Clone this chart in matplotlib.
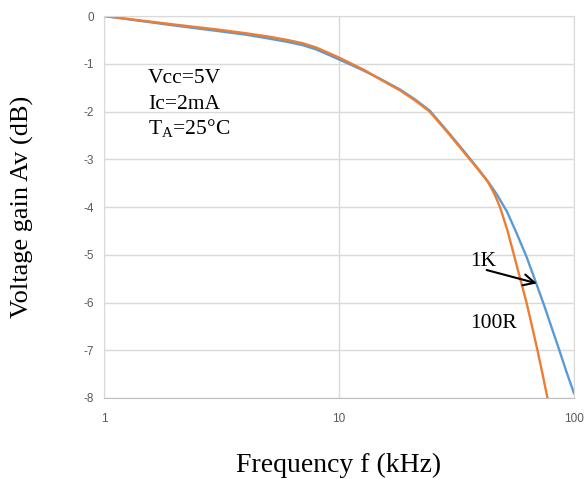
import matplotlib
matplotlib.use("Agg")
import matplotlib.pyplot as plt

# gain vs frequency (kHz, dB), 1K load
f_1k = [1, 2, 3, 4, 5, 6, 7, 8, 9, 10, 11.1, 12.8, 14.9, 18.2, 21.1, 24.3, 29.7, 36,
        39.5, 43.1, 47, 51.9, 57, 62.9, 68.5, 74.5, 80, 86.9, 93, 100]
av_1k = [0, -0.2, -0.31, -0.39, -0.47, -0.54, -0.61, -0.7, -0.81, -0.91, -1.01, -1.15, -1.31, -1.54, -1.75,
         -1.98, -2.48, -2.98, -3.23, -3.47, -3.74, -4.1, -4.55, -5.05, -5.55, -6.05, -6.5, -7.02, -7.46, -7.9]

# gain vs frequency (kHz, dB), 100R load
f_100r = [1, 2, 3, 4, 5, 6, 7, 8, 9, 10, 11.1, 12.8, 14.9, 18.2, 21.1, 24.3, 29.7, 36,
          39.5, 43.1, 46, 48.4, 52, 55.5, 59, 62.8, 66.3, 69.9, 73.5, 77.1]
av_100r = [0, -0.18, -0.28, -0.36, -0.43, -0.5, -0.57, -0.66, -0.77, -0.87, -0.98, -1.13, -1.32, -1.56, -1.77,
           -2.0, -2.5, -3.0, -3.24, -3.48, -3.74, -4.0, -4.48, -5.0, -5.5, -6.0, -6.5, -7.0, -7.5, -8.0]

yticks = [0, -1, -2, -3, -4, -5, -6, -7, -8]
xticks = [1, 10, 100]

serif = 'Liberation Serif'
sans = 'Liberation Sans'

fig = plt.figure(figsize=(5.85, 4.79), dpi=100)
ax = fig.add_axes([104/585, 1-398/479, (574-104)/585, (398-16)/479])

ax.plot(f_1k, av_1k, color='#5B9BD5', lw=1.7)
ax.plot(f_100r, av_100r, color='#ED7D31', lw=1.7)

ax.set_xscale('log')
ax.set_xlim(1, 100)
ax.set_ylim(-8, 0)
ax.set_xticks(xticks)
ax.set_xticklabels([str(t) for t in xticks])
ax.minorticks_off()
ax.set_yticks(yticks)
ax.set_yticklabels([str(t) for t in yticks])
ax.tick_params(length=0, labelsize=8.5, labelcolor='#595959')
ax.tick_params(axis='x', pad=11)
ax.tick_params(axis='y', pad=7)
for lab in ax.get_xticklabels() + ax.get_yticklabels():
    lab.set_family(sans)

ax.grid(True, color='#d9d9d9', lw=1)
ax.set_axisbelow(True)
for s in ['left', 'right', 'top']:
    ax.spines[s].set_color('#d9d9d9')
ax.spines['bottom'].set_color('#bfbfbf')

# test conditions
ax.text(0.0936, 0.836, 'Vcc=5V', transform=ax.transAxes, family=serif, fontsize=15.5, va='center')
ax.text(0.0936, 0.768, 'Ic=2mA', transform=ax.transAxes, family=serif, fontsize=15.5, va='center')
ax.text(0.0936, 0.706, r'T$_\mathregular{A}$=25°C', transform=ax.transAxes, family=serif, fontsize=15.5, va='center')

# curve labels and arrow
ax.text(36, -5.15, '1K', family=serif, fontsize=15.5, va='center')
ax.text(36, -6.45, '100R', family=serif, fontsize=15.5, va='center')
ax.annotate('', xy=(69.5, -5.6), xytext=(42.5, -5.32),
            arrowprops=dict(arrowstyle='->', color='black', lw=1.5, mutation_scale=20, shrinkA=0, shrinkB=0))

ax.set_xlabel('Frequency f (kHz)', family=serif, fontsize=20, labelpad=20)
ax.set_ylabel('Voltage gain Av (dB)', family=serif, fontsize=19, labelpad=36)

fig.savefig('out.png', dpi=100)
